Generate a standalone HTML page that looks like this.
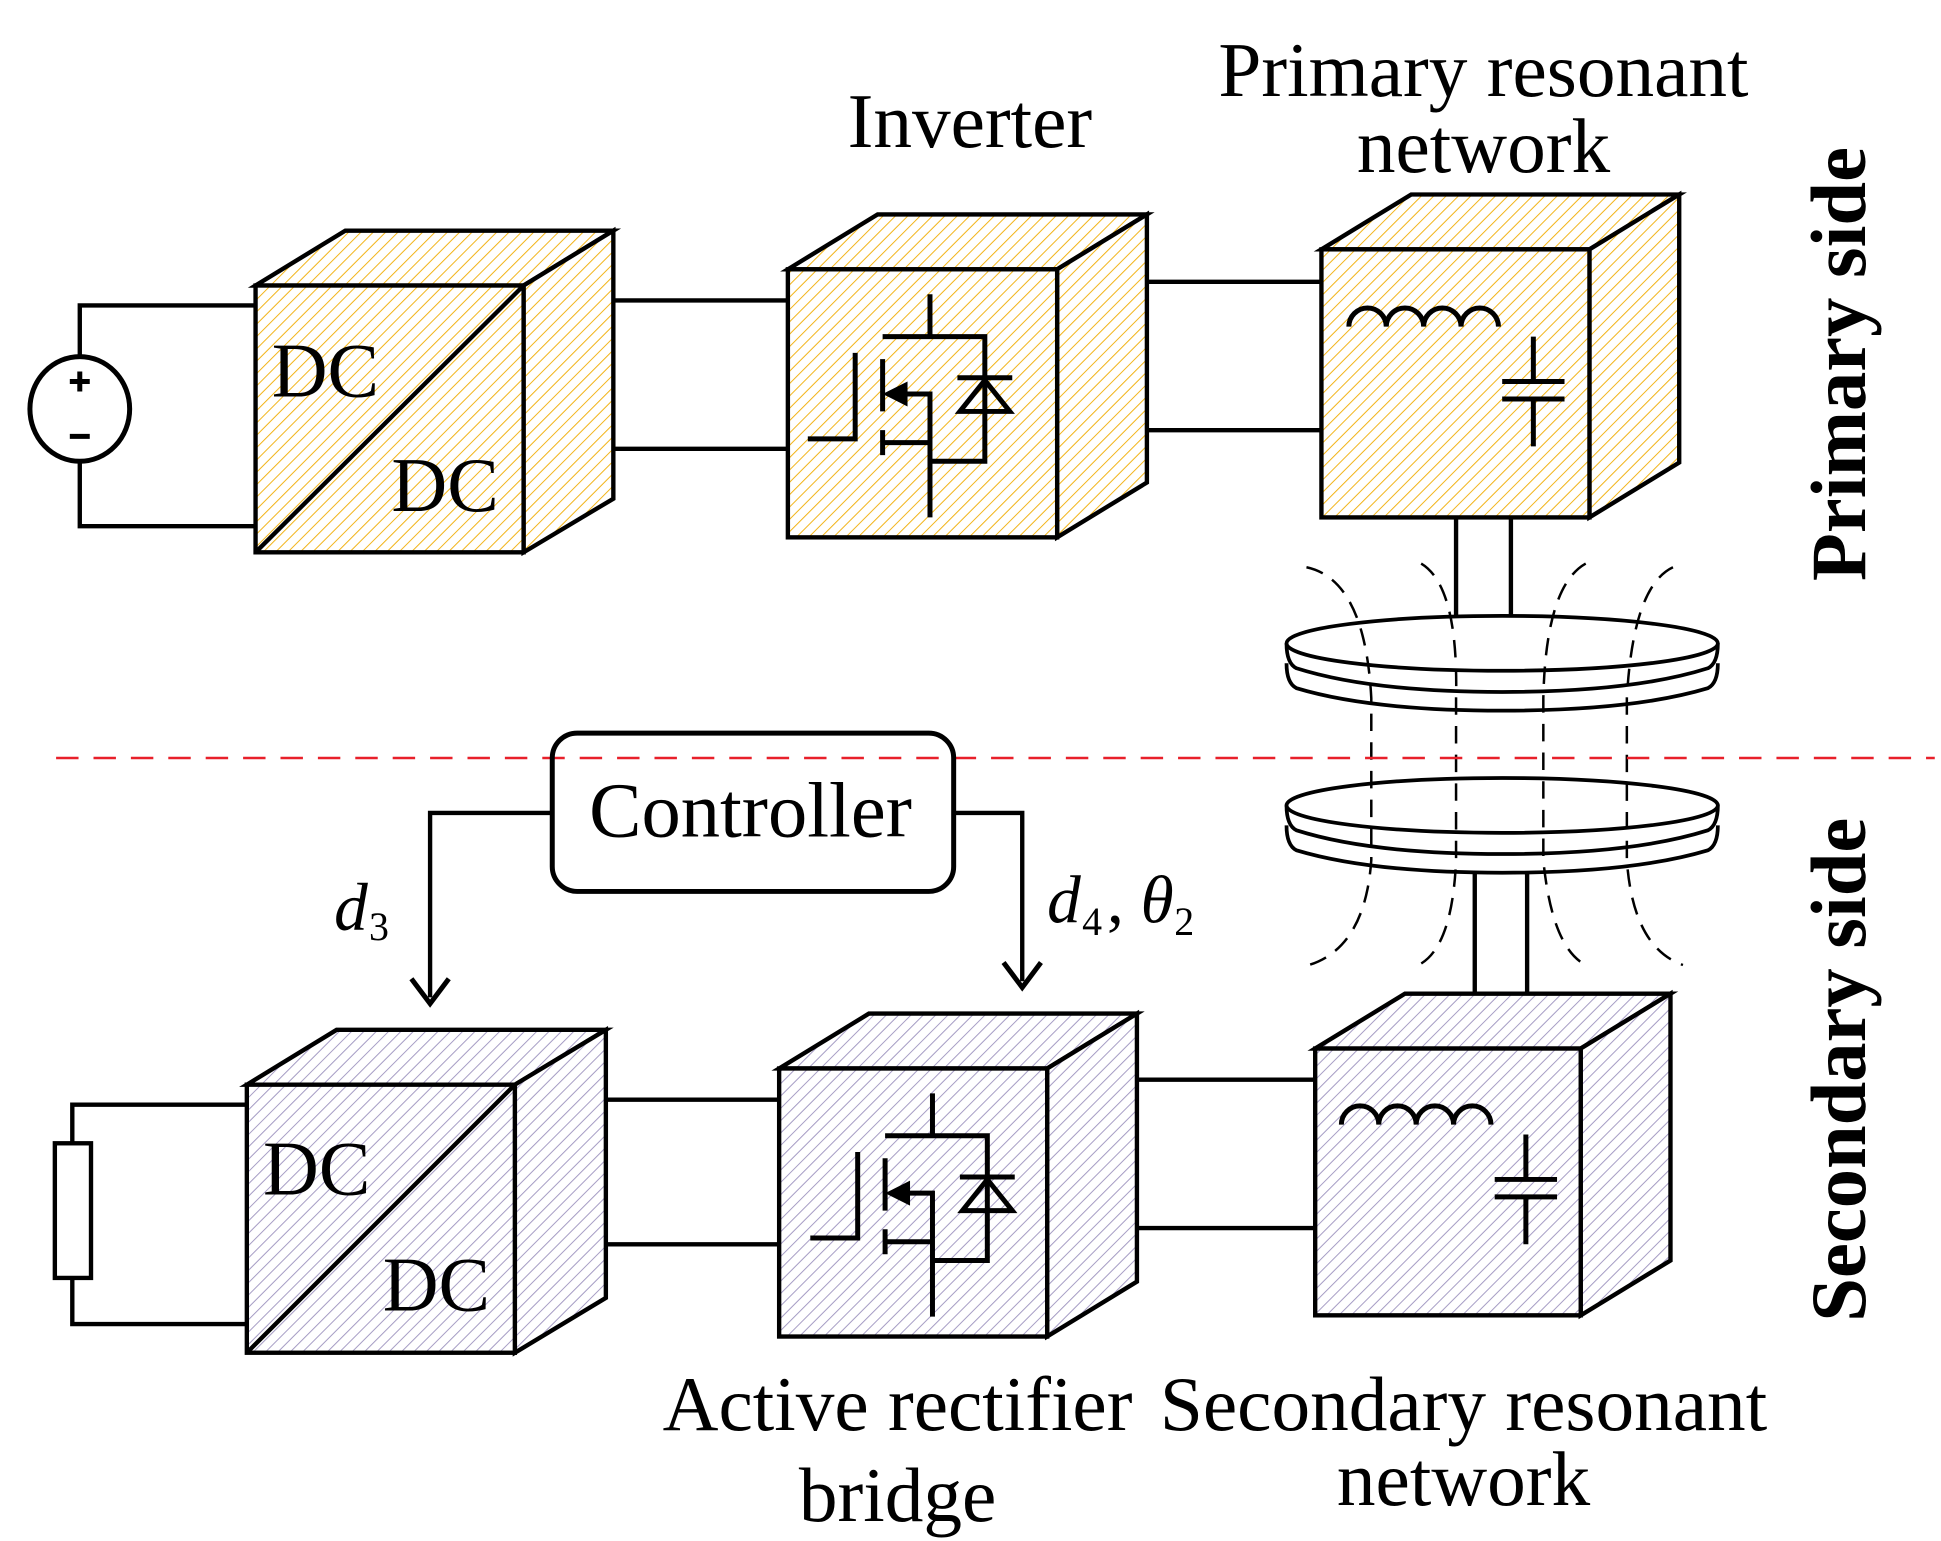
<!DOCTYPE html>
<html><head><meta charset="utf-8"><style>html,body{margin:0;padding:0;background:#fff}svg{display:block}</style></head><body>
<svg width="1941" height="1541" viewBox="0 0 1557 1236" preserveAspectRatio="none" xmlns="http://www.w3.org/2000/svg" font-family="Liberation Serif, serif">
<defs>
<pattern id="py" width="7" height="7" patternUnits="userSpaceOnUse" patternTransform="rotate(45)"><rect width="7" height="7" fill="#fff"/><line x1="0" y1="0" x2="0" y2="7" stroke="#f2b418" stroke-width="1.6"/></pattern>
<pattern id="pp" width="7" height="7" patternUnits="userSpaceOnUse" patternTransform="rotate(45)"><rect width="7" height="7" fill="#fff"/><line x1="0" y1="0" x2="0" y2="7" stroke="#a59cc4" stroke-width="1.6"/></pattern>
<g id="mos" fill="none" stroke="#000" stroke-width="4">
<path d="M648,352 H686 V283"/>
<path d="M708,288 V310 M708,305 V330 M708,345 V365"/>
<path d="M708,270 H746 V236 M746,270 H790 V370 H746 M708,355 H746 V415 M746,355 V316 H722"/>
<polygon points="708,316 728,306 728,326" fill="#000" stroke="none"/>
<polygon points="770,330 810,330 790,305" fill="none"/>
<path d="M768,303 H812"/>
</g>
<g id="lc" fill="none" stroke="#000" stroke-width="4">
<path d="M1082,262 a15,15 0 0 1 30,0 a15,15 0 0 1 30,0 a15,15 0 0 1 30,0 a15,15 0 0 1 30,0"/>
<path d="M1230,270 V306 M1205,306 H1255 M1205,320 H1255 M1230,320 V358"/>
</g>
</defs>
<g stroke="#000" stroke-width="3.5" fill="none">
<ellipse cx="64" cy="328" rx="40" ry="42" stroke-width="4"/>
<path d="M64,286 V245 H205 M64,370 V422 H205"/>
<path d="M56,306 H72 M64,298 V314 M56,350 H72" stroke-width="4"/>
<polygon points="205,229 277,185 492,185 420,229" fill="url(#py)"/>
<polygon points="420,229 492,185 492,400 420,443" fill="url(#py)"/>
<rect x="205" y="229" width="215" height="214" fill="url(#py)"/>
<line x1="205" y1="443" x2="420" y2="229"/>
<path d="M492,241 H632 M492,360 H632"/>
<polygon points="632,216 704,172 920,172 848,216" fill="url(#py)"/>
<polygon points="848,216 920,172 920,387 848,431" fill="url(#py)"/>
<rect x="632" y="216" width="216" height="215" fill="url(#py)"/>
<path d="M920,226 H1060 M920,345 H1060"/>
<polygon points="1060,200 1132,156 1347,156 1275,200" fill="url(#py)"/>
<polygon points="1275,200 1347,156 1347,371 1275,415" fill="url(#py)"/>
<rect x="1060" y="200" width="215" height="215" fill="url(#py)"/>
<path d="M1168,415 V494 M1212,415 V494"/>
<g stroke-width="3">
<ellipse cx="1205" cy="516" rx="173" ry="22"/>
<path d="M1032,516 Q1032,532 1040,536 Q1100,555 1205,555 Q1310,555 1370,536 Q1378,532 1378,516"/>
<path d="M1032,532 Q1032,548 1040,552 Q1100,570 1205,570 Q1310,570 1370,552 Q1378,548 1378,532"/>
<ellipse cx="1205" cy="646" rx="173" ry="22"/>
<path d="M1032,646 Q1032,662 1040,666 Q1100,685 1205,685 Q1310,685 1370,666 Q1378,662 1378,646"/>
<path d="M1032,662 Q1032,678 1040,682 Q1100,700 1205,700 Q1310,700 1370,682 Q1378,678 1378,662"/>
</g>
<g stroke-width="2" stroke-dasharray="14,9">
<path d="M1048,455 Q1095,465 1100,560 L1100,690 Q1095,760 1050,774"/>
<path d="M1140,452 Q1170,470 1168,560 L1168,690 Q1165,760 1138,774"/>
<path d="M1272,452 Q1240,470 1238,560 L1238,690 Q1245,760 1272,774"/>
<path d="M1342,455 Q1310,470 1305,560 L1305,690 Q1310,760 1350,774"/>
</g>
<path d="M1183,700 V797 M1225,700 V797"/>
<line x1="45" y1="608" x2="1552" y2="608" stroke="#e8202a" stroke-width="2" stroke-dasharray="18,12"/>
<rect x="443" y="588" width="322" height="127" rx="20" stroke-width="4"/>
<path d="M443,652 H345 V800 M765,652 H820 V787"/>
<path d="M330,785 L345,805 L360,785 M805,772 L820,792 L835,772" stroke-width="4"/>
<rect x="44" y="917" width="29" height="108"/>
<path d="M58,917 V886 H198 M58,1025 V1062 H198"/>
<polygon points="198,870 270,826 486,826 413,870" fill="url(#pp)"/>
<polygon points="413,870 486,826 486,1041 413,1085" fill="url(#pp)"/>
<rect x="198" y="870" width="215" height="215" fill="url(#pp)"/>
<line x1="198" y1="1085" x2="413" y2="870"/>
<path d="M486,882 H625 M486,998 H625"/>
<polygon points="625,857 697,813 912,813 840,857" fill="url(#pp)"/>
<polygon points="840,857 912,813 912,1028 840,1072" fill="url(#pp)"/>
<rect x="625" y="857" width="215" height="215" fill="url(#pp)"/>
<path d="M912,866 H1055 M912,985 H1055"/>
<polygon points="1055,841 1127,797 1340,797 1268,841" fill="url(#pp)"/>
<polygon points="1268,841 1340,797 1340,1011 1268,1055" fill="url(#pp)"/>
<rect x="1055" y="841" width="213" height="214" fill="url(#pp)"/>
</g>
<use href="#mos"/>
<use href="#mos" transform="translate(2,641)"/>
<use href="#lc"/>
<use href="#lc" transform="translate(-6,640)"/>
<g fill="#000" font-size="62">
<text x="218" y="318">DC</text>
<text x="314" y="410">DC</text>
<text x="211" y="958">DC</text>
<text x="307" y="1051">DC</text>
<text x="778" y="118" text-anchor="middle">Inverter</text>
<text x="1190" y="77" text-anchor="middle">Primary resonant</text>
<text x="1190" y="138" text-anchor="middle">network</text>
<text x="602" y="671" text-anchor="middle" font-size="63">Controller</text>
<text x="720" y="1147" text-anchor="middle">Active rectifier</text>
<text x="720" y="1220" text-anchor="middle">bridge</text>
<text x="1174" y="1147" text-anchor="middle">Secondary resonant</text>
<text x="1174" y="1207" text-anchor="middle">network</text>
<text x="268" y="746" font-style="italic" font-size="54">d</text><text x="296" y="754" font-size="32">3</text>
<text x="840" y="740" font-style="italic" font-size="54">d</text><text x="868" y="750" font-size="32">4</text><text x="888" y="740" font-size="54">,</text>
<text x="915" y="740" font-style="italic" font-size="54">θ</text><text x="942" y="750" font-size="32">2</text>
<text transform="translate(1496,292) rotate(-90)" text-anchor="middle" font-weight="bold" font-size="63">Primary side</text>
<text transform="translate(1496,858) rotate(-90)" text-anchor="middle" font-weight="bold" font-size="63">Secondary side</text>
</g>
</svg>
</body></html>
